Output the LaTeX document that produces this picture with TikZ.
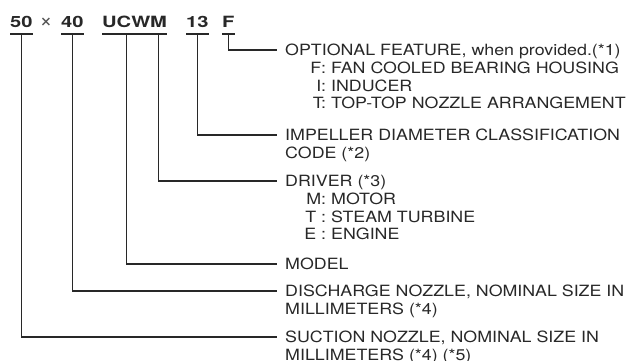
\documentclass[tikz,border=0pt]{standalone}
\usepackage{fontspec}
\setmainfont{TeX Gyre Heros}
\newfontfamily\labelfont[FakeStretch=1.15]{TeX Gyre Heros}
\newfontfamily\codefont[FakeStretch=1.3]{TeX Gyre Heros}
\usepackage{xcolor}
\definecolor{inkgray}{RGB}{40, 40, 40}
\newcommand{\keyitem}[1]{\hspace*{24pt}\makebox[17pt][r]{#1}\ }
\newcommand{\topline}{\rule{0pt}{12pt}}

\begin{document}
\begin{tikzpicture}[
    x=1pt, y=-1pt,
    code/.style={anchor=base west, inner sep=0pt, text=inkgray, font=\codefont\bfseries\fontsize{15.5}{18}\selectfont},
    lab/.style={anchor=north west, inner sep=0pt, align=left, text=inkgray, font=\labelfont\fontsize{15.5}{17.7}\selectfont},
    uline/.style={draw=inkgray, line width=1.8pt},
    lead/.style={draw=inkgray, line width=1.4pt},
]
\useasboundingbox (0,0) rectangle (632,361);

% Type code
\node[code] (c50) at (10,28) {50};
\node[code, anchor=center, text=inkgray!80, font=\fontsize{22}{22}\selectfont] (cx) at (46,22.5) {×};
\node[code] (c40) at (61,28) {40};
\node[code] (cucw) at (102,28) {UCW};
\node[code] (cm) at (150,28) {M};
\node[code] (c13) at (186,28) {13};
\node[code] (cf) at (222,28) {F};

\foreach \part in {c50, c40, cucw, cm, c13, cf}
    \draw[uline] ([yshift=-6pt]\part.base west) -- ([yshift=-6pt]\part.base east);

% Meanings (first baseline = top + 12)
\node[lab] (lopt) at (285,43.5) {\topline OPTIONAL FEATURE, when provided.(*1)\\
    \keyitem{F:}FAN COOLED BEARING HOUSING\\
    \keyitem{I:}INDUCER\\
    \keyitem{T:}TOP-TOP NOZZLE ARRANGEMENT};
\node[lab] (limp) at (285,128.5) {\topline IMPELLER DIAMETER CLASSIFICATION\\CODE (*2)};
\node[lab] (ldrv) at (285,174.5) {\topline DRIVER (*3)\\
    \keyitem{M:}MOTOR\\
    \keyitem{T :}STEAM TURBINE\\
    \keyitem{E :}ENGINE};
\node[lab] (lmod) at (285,257.5) {\topline MODEL};
\node[lab] (ldis) at (285,284.5) {\topline DISCHARGE NOZZLE, NOMINAL SIZE IN\\MILLIMETERS (*4)};
\node[lab] (lsuc) at (285,330.5) {\topline SUCTION NOZZLE, NOMINAL SIZE IN\\MILLIMETERS (*4) (*5)};

% Leaders
\draw[lead] ([yshift=-6pt]cf.base) |- ([xshift=-8pt,yshift=-6.5pt]lopt.north west);
\draw[lead] ([yshift=-6pt]c13.base) |- ([xshift=-8pt,yshift=-6.5pt]limp.north west);
\draw[lead] ([yshift=-6pt]cm.base) |- ([xshift=-8pt,yshift=-6.5pt]ldrv.north west);
\draw[lead] ([yshift=-6pt]cucw.base) |- ([xshift=-8pt,yshift=-6.5pt]lmod.north west);
\draw[lead] ([yshift=-6pt]c40.base) |- ([xshift=-8pt,yshift=-6.5pt]ldis.north west);
\draw[lead] ([yshift=-6pt]c50.base) |- ([xshift=-8pt,yshift=-6.5pt]lsuc.north west);

\end{tikzpicture}
\end{document}
